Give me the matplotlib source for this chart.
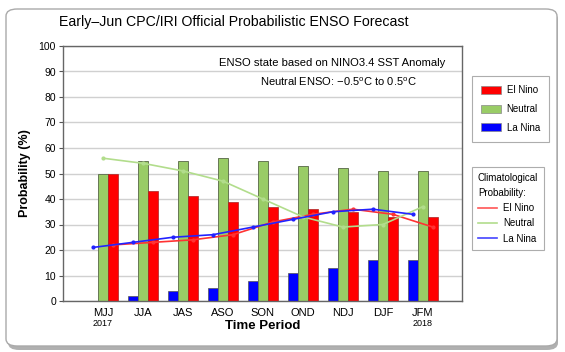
import numpy as np
import matplotlib
matplotlib.use("Agg")
import matplotlib.pyplot as plt
from matplotlib.patches import FancyBboxPatch, Patch
from matplotlib.lines import Line2D

plt.rcParams['font.family'] = ['Liberation Sans', 'DejaVu Sans']
plt.rcParams['mathtext.fontset'] = 'custom'
plt.rcParams['mathtext.rm'] = 'Liberation Sans'

# forecast data
periods = ["MJJ", "JJA", "JAS", "ASO", "SON", "OND", "NDJ", "DJF", "JFM"]
la_nina = [0, 2, 4, 5, 8, 11, 13, 16, 16]
neutral = [50, 55, 55, 56, 55, 53, 52, 51, 51]
el_nino = [50, 43, 41, 39, 37, 36, 35, 33, 33]

# climatological probability
clim_el_nino = [22, 23, 24, 26, 31, 34, 36, 34, 29]
clim_neutral = [56, 54, 51, 47, 40, 33, 29, 30, 37]
clim_la_nina = [21, 23, 25, 26, 29, 32, 35, 36, 34]

RED = "#ff0000"
GREEN = "#99cc66"
BLUE = "#0000ff"

fig = plt.figure(figsize=(5.65, 3.52), dpi=100)

# rounded frame with a bit of shadow
shadow = FancyBboxPatch((8/565, 1 - 350/352), 550/565, 338/352,
                        boxstyle="round,pad=0,rounding_size=0.02",
                        transform=fig.transFigure, facecolor="#b0b0b0",
                        edgecolor="none", zorder=0)
frame = FancyBboxPatch((6/565, 1 - 346/352), 551/565, 337/352,
                       boxstyle="round,pad=0,rounding_size=0.02",
                       transform=fig.transFigure, facecolor="white",
                       edgecolor="#aaaaaa", lw=1.0, zorder=0.5)
fig.patches.extend([shadow, frame])

ax = fig.add_axes([63/565, 1 - 301/352, 399/565, 255/352])
ax.set_zorder(2)

x = np.arange(len(periods))
w = 0.25
ax.bar(x - w, la_nina, w, color=BLUE, edgecolor="#555555", lw=0.5, zorder=2)
ax.bar(x, neutral, w, color=GREEN, edgecolor="#667755", lw=0.7, zorder=2)
ax.bar(x + w, el_nino, w, color=RED, edgecolor="#aa2222", lw=0.5, zorder=2)

ax.plot(x + w, clim_el_nino, color="#ff3333", lw=1.2, marker='o', ms=2, zorder=3)
ax.plot(x, clim_neutral, color="#b2dd8c", lw=1.2, marker='o', ms=2, zorder=3)
ax.plot(x - w, clim_la_nina, color="#2222ff", lw=1.2, marker='o', ms=2, zorder=3)

ax.set_xlim(-1.0, 8.98)
ax.set_ylim(0, 100)
ax.set_yticks(range(0, 101, 10))
ax.set_xticks(x)
ax.set_xticklabels(periods, fontsize=8)
ax.tick_params(axis='x', length=0, pad=5)
ax.tick_params(axis='y', labelsize=7.5, length=3, color="#555555", pad=2)
ax.yaxis.grid(True, color="#d0d0d0", lw=1.0)
ax.set_axisbelow(True)
for s in ax.spines.values():
    s.set_color("#666666")
    s.set_linewidth(1.0)

ax.set_ylabel("Probability (%)", fontsize=9, fontweight='bold')
ax.yaxis.set_label_coords(-32/399, 0.5)
ax.set_xlabel("Time Period", fontsize=9.5, fontweight='bold', va='center')
ax.xaxis.set_label_coords(0.5, -25/255)

ax.text(0, -0.087, "2017", transform=ax.get_xaxis_transform(), ha='center',
        va='center', fontsize=6.5)
ax.text(8, -0.087, "2018", transform=ax.get_xaxis_transform(), ha='center',
        va='center', fontsize=6.5)

ax.text(0.675, 0.935, "ENSO state based on NINO3.4 SST Anomaly",
        transform=ax.transAxes, ha='center', va='center', fontsize=8.1)
ax.text(0.69, 0.86, r"Neutral ENSO: $-$0.5$^{\mathrm{o}}$C to 0.5$^{\mathrm{o}}$C",
        transform=ax.transAxes, ha='center', va='center', fontsize=8)

fig.text(234/565, 1 - 22/352, "Early\u2013Jun CPC/IRI Official Probabilistic ENSO Forecast",
         ha='center', va='center', fontsize=10.2)

# legends
h1 = [Patch(facecolor=RED, edgecolor="#888888", lw=0.5),
      Patch(facecolor=GREEN, edgecolor="#888888", lw=0.5),
      Patch(facecolor=BLUE, edgecolor="#888888", lw=0.5)]
leg1 = fig.legend(h1, ["El Nino", "Neutral", "La Nina"],
                  loc='upper left', bbox_to_anchor=(472/565, 1 - 76/352),
                  fontsize=7, frameon=True, fancybox=False, edgecolor="#999999",
                  handlelength=2.0, handleheight=0.9, handletextpad=0.6,
                  borderpad=0.95, labelspacing=0.9, borderaxespad=0)
leg1.get_frame().set_linewidth(0.8)

h2 = [Line2D([], [], color="#ff5555", lw=1.2),
      Line2D([], [], color="#b2dd8c", lw=1.2),
      Line2D([], [], color="#4444ff", lw=1.2)]
leg2 = fig.legend(h2, ["El Nino", "Neutral", "La Nina"],
                  title="Climatological\nProbability:", title_fontsize=7,
                  loc='upper left', bbox_to_anchor=(472/565, 1 - 167/352),
                  fontsize=7, frameon=True, fancybox=False, edgecolor="#999999",
                  handlelength=2.0, handletextpad=0.6, borderpad=0.6,
                  labelspacing=0.55, borderaxespad=0, alignment='left')
leg2.get_frame().set_linewidth(0.8)
leg2.get_title().set_linespacing(1.6)

fig.savefig("out.png", dpi=100)
